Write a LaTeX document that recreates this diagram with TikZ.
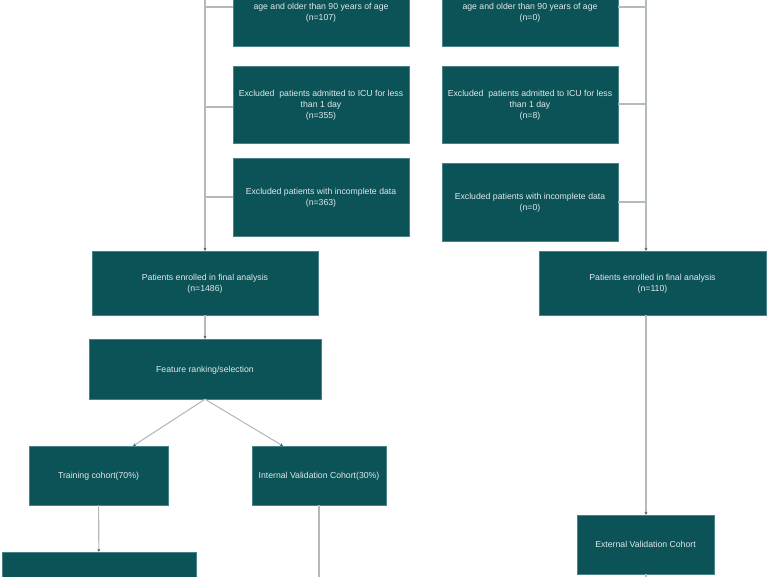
\documentclass[tikz,border=0pt]{standalone}
\usepackage{fontspec}
\setmainfont{Liberation Sans}
\usetikzlibrary{arrows.meta}
\definecolor{boxteal}{RGB}{12,83,88}
\definecolor{boxedge}{RGB}{70,130,136}
\definecolor{boxtext}{RGB}{222,233,234}
\definecolor{linegrey}{RGB}{178,186,190}
\definecolor{tipgrey}{RGB}{80,88,92}
\tikzset{box/.style={fill=boxteal,draw=boxedge,line width=0.4pt,text=boxtext,align=center,
    font=\fontsize{8.7}{10.8}\selectfont,inner sep=2pt,text depth=-1.5pt},
  link/.style={draw=linegrey,line width=1.1pt},
  arr/.style={link,-{Stealth[length=3pt,width=3pt,color=tipgrey]}}}

\begin{document}
\begin{tikzpicture}[x=1pt,y=-1pt]
  \useasboundingbox (0,0) rectangle (768,576);
      % exclusion boxes, derivation cohort
      \node[box,minimum width=176pt,minimum height=68pt] (el1) at (321,12) {age and older than 90 years of age\\(n=107)};
      \node[box,minimum width=176pt,minimum height=77pt] (el2) at (321,104.5) {Excluded\ \ patients admitted to ICU for less\\than 1 day\\(n=355)};
      \node[box,minimum width=176pt,minimum height=78pt] (el3) at (321,197) {Excluded patients with incomplete data\\(n=363)};
      % exclusion boxes, external cohort
      \node[box,minimum width=176pt,minimum height=68pt] (er1) at (530,12) {age and older than 90 years of age\\(n=0)};
      \node[box,minimum width=176pt,minimum height=77pt] (er2) at (530,104.5) {Excluded\ \ patients admitted to ICU for less\\than 1 day\\(n=8)};
      \node[box,minimum width=176pt,minimum height=78pt] (er3) at (530,202) {Excluded patients with incomplete data\\(n=0)};
      % enrolled
      \node[box,minimum width=226pt,minimum height=64pt] (fl) at (205,283) {Patients enrolled in final analysis\\(n=1486)};
      \node[box,minimum width=227pt,minimum height=64pt] (fr) at (652.5,283) {Patients enrolled in final analysis\\(n=110)};
      \node[box,minimum width=232pt,minimum height=60pt] (sel) at (205,369) {Feature ranking/selection};
      \node[box,minimum width=139pt,minimum height=59pt] (train) at (98.5,475.5) {Training cohort(70\%)};
      \node[box,minimum width=134pt,minimum height=59pt] (ival) at (319,475.5) {Internal Validation Cohort(30\%)};
      \node[box,minimum width=137pt,minimum height=59pt] (eval) at (645.5,544.5) {External Validation Cohort};
      \node[box,minimum width=194pt,minimum height=68pt] (model) at (99,586) {};

      \coordinate (ltop) at (205,-5);
      \coordinate (lb1) at (205,7);
      \coordinate (lb2) at (205,107);
      \coordinate (lb3) at (205,197);
      \coordinate (rtop) at (646,-5);
      \coordinate (rb1) at (646,7);
      \coordinate (rb2) at (646,104);
      \coordinate (rb3) at (646,202);
      \coordinate (ta) at (133,446);
      \coordinate (va) at (283,446);
      \coordinate (vbot) at (319,582);
      \coordinate (xbot) at (646,582);

\foreach \j/\b in {lb1/el1,lb2/el2,lb3/el3}
  \draw[link] (\j) -- (\j -| \b.west);
\foreach \j/\b in {rb1/er1,rb2/er2,rb3/er3}
  \draw[link] (\j) -- (\j -| \b.east);
\draw[arr] (ltop) -- (fl.north);
\draw[arr] (rtop) -- (rtop |- fr.north);
\draw[arr] (fr.south -| rtop) -- (eval.north -| rtop);
\foreach \a/\b in {fl/sel,sel.south/ta,sel.south/va,train/model}
  \draw[arr] (\a) -- (\b);
\draw[link] (ival.south) -- (vbot);
\draw[link] (eval.south -| xbot) -- (xbot);
    \end{tikzpicture}
\end{document}
